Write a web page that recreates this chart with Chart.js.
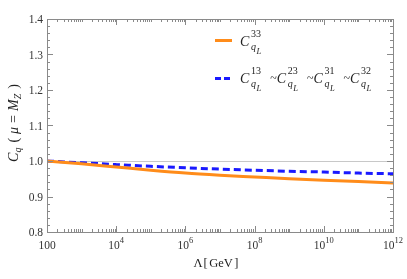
<!DOCTYPE html>
<html><head><meta charset="utf-8">
<script src="https://cdn.jsdelivr.net/npm/chart.js@4/dist/chart.umd.min.js"></script>
<style>html,body{margin:0;padding:0;background:#fff}#wrap{width:407px;height:279px}</style>
</head><body><div id="wrap"><canvas id="c" width="407" height="279"></canvas></div>
<script>
const lambdaGeV = [1e2,1e3,1e4,1e5,1e6,1e7,1e8,1e9,1e10,1e11,1e12];
const c33 = [1.000,0.992,0.983,0.974,0.966,0.960,0.955,0.950,0.946,0.942,0.938];
const c13 = [1.000,0.995,0.990,0.985,0.981,0.977,0.974,0.971,0.969,0.966,0.964];
const xTickExponents = [2,4,6,8,10,12];
const yTickValues = [0.8,0.9,1.0,1.1,1.2,1.3,1.4];
const legendSup1 = ['33'];
const legendSup2 = ['13','23','31','32'];

const SERIF = '"Liberation Serif","DejaVu Serif",serif';
function mathWidth(ctx, segs){let w=0;for(const s of segs){ctx.font=s.f;w+=ctx.measureText(s.t).width+(s.gap||0);}return w;}
function drawMath(ctx, x, y, segs){let cx=x;for(const s of segs){ctx.font=s.f;ctx.fillText(s.t,cx,y+(s.dy||0));cx+=ctx.measureText(s.t).width+(s.gap||0);}return cx;}
const fI = (n)=>'italic '+n+'px '+SERIF, fR=(n)=>n+'px '+SERIF;

function drawCq(ctx, x, base, sup){
  ctx.font=fI(14); ctx.fillText('C',x,base);
  const s=x+11;
  ctx.font=fR(10); ctx.fillText(sup,s,base-9);
  ctx.font=fI(10); ctx.fillText('q',s,base+4);
  ctx.font=fI(8.5); ctx.fillText('L',s+5.5,base+8);
}

const decor = {
  id:'decor',
  beforeDatasetsDraw(chart){
    const {ctx, chartArea:a, scales:{y}} = chart;
    ctx.save();ctx.strokeStyle='#c8c8c8';ctx.lineWidth=1;
    const py=Math.round(y.getPixelForValue(1.0))+0.5;
    ctx.beginPath();ctx.moveTo(a.left,py);ctx.lineTo(a.right,py);ctx.stroke();ctx.restore();
  },
  afterDraw(chart){
    const {ctx, chartArea:a, scales:{x,y}} = chart;
    ctx.save();
    ctx.strokeStyle='#8a8a8a';ctx.lineWidth=1;
    ctx.strokeRect(Math.round(a.left)+0.5,Math.round(a.top)+0.5,Math.round(a.right-a.left),Math.round(a.bottom-a.top));
    ctx.beginPath();
    for(let i=0;i<=30;i++){
      const v=0.8+i*0.02; const py=Math.round(y.getPixelForValue(v))+0.5;
      const len=(i%5===0)?6:3;
      ctx.moveTo(a.left,py);ctx.lineTo(a.left+len,py);
      ctx.moveTo(a.right,py);ctx.lineTo(a.right-len,py);
    }
    for(let e=2;e<12;e++){
      for(let k=1;k<10;k++){
        const v=k*Math.pow(10,e); const px=Math.round(x.getPixelForValue(v))+0.5;
        const len=(k===1&&e%2===0)?6:3;
        ctx.moveTo(px,a.bottom);ctx.lineTo(px,a.bottom-len);
        ctx.moveTo(px,a.top);ctx.lineTo(px,a.top+len);
      }
    }
    ctx.stroke();
    ctx.fillStyle='#333';ctx.textBaseline='middle';ctx.textAlign='right';ctx.font=fR(11.5);
    for(const v of yTickValues){ctx.fillText(v.toFixed(1),a.left-4,y.getPixelForValue(v)+1);}
    ctx.textAlign='left';ctx.textBaseline='alphabetic';
    for(const e of xTickExponents){
      const px=x.getPixelForValue(Math.pow(10,e));
      let segs = e===2?[{t:'100',f:fR(11.5)}]:[{t:'10',f:fR(11.5)},{t:String(e),f:fR(8.5),dy:-6}];
      const w=mathWidth(ctx,segs);
      drawMath(ctx,px-w/2,a.bottom+17,segs);
    }
    ctx.fillStyle='#222';
    const xt=[{t:'Λ',f:fR(12.5),gap:1},{t:'[',f:fR(12.5),gap:1.5},{t:'GeV',f:fR(12.5),gap:1.5},{t:']',f:fR(12.5)}];
    const xw=mathWidth(ctx,xt); drawMath(ctx,216-xw/2,267,xt);
    ctx.save();ctx.translate(18,123);ctx.rotate(-Math.PI/2);
    const yt=[{t:'C',f:fI(14)},{t:'q',f:fI(10),dy:3,gap:5},{t:'(',f:fR(14),gap:4},{t:'μ',f:fI(14),gap:4},{t:'=',f:fR(14),gap:4},{t:'M',f:fI(14)},{t:'Z',f:fI(10),dy:3,gap:5},{t:')',f:fR(14)}];
    const yw=mathWidth(ctx,yt); drawMath(ctx,-yw/2,0,yt);ctx.restore();
    // legend
    ctx.lineWidth=3;
    ctx.strokeStyle='#ff8c1a';ctx.setLineDash([]);
    ctx.beginPath();ctx.moveTo(215,40.5);ctx.lineTo(232,40.5);ctx.stroke();
    ctx.strokeStyle='#1a1aff';ctx.setLineDash([6,3]);
    ctx.beginPath();ctx.moveTo(215,78.5);ctx.lineTo(230,78.5);ctx.stroke();
    ctx.setLineDash([]);
    ctx.fillStyle='#222';
    drawCq(ctx,240,46,legendSup1[0]);
    legendSup2.forEach((s,i)=>{
      const gx=240+i*36.7;
      if(i>0){ctx.font=fR(12);ctx.fillText('~',gx-6.5,82);}
      drawCq(ctx,gx,83,s);
    });
    ctx.restore();
  }
};

new Chart(document.getElementById('c'),{
  type:'line',
  data:{datasets:[
    {label:'C33',data:lambdaGeV.map((v,i)=>({x:v,y:c33[i]})),borderColor:'#ff8c1a',borderWidth:3,pointRadius:0,cubicInterpolationMode:'monotone',fill:false},
    {label:'C13',data:lambdaGeV.map((v,i)=>({x:v,y:c13[i]})),borderColor:'#1a1aff',borderWidth:3,borderDash:[7,4],pointRadius:0,cubicInterpolationMode:'monotone',fill:false}
  ]},
  options:{
    responsive:false,animation:false,devicePixelRatio:1,
    layout:{padding:{left:47,right:14,top:19,bottom:47}},
    plugins:{legend:{display:false},tooltip:{enabled:false}},
    scales:{
      x:{type:'logarithmic',min:100,max:1e12,display:false},
      y:{type:'linear',min:0.8,max:1.4,display:false}
    }
  },
  plugins:[decor]
});
</script></body></html>
